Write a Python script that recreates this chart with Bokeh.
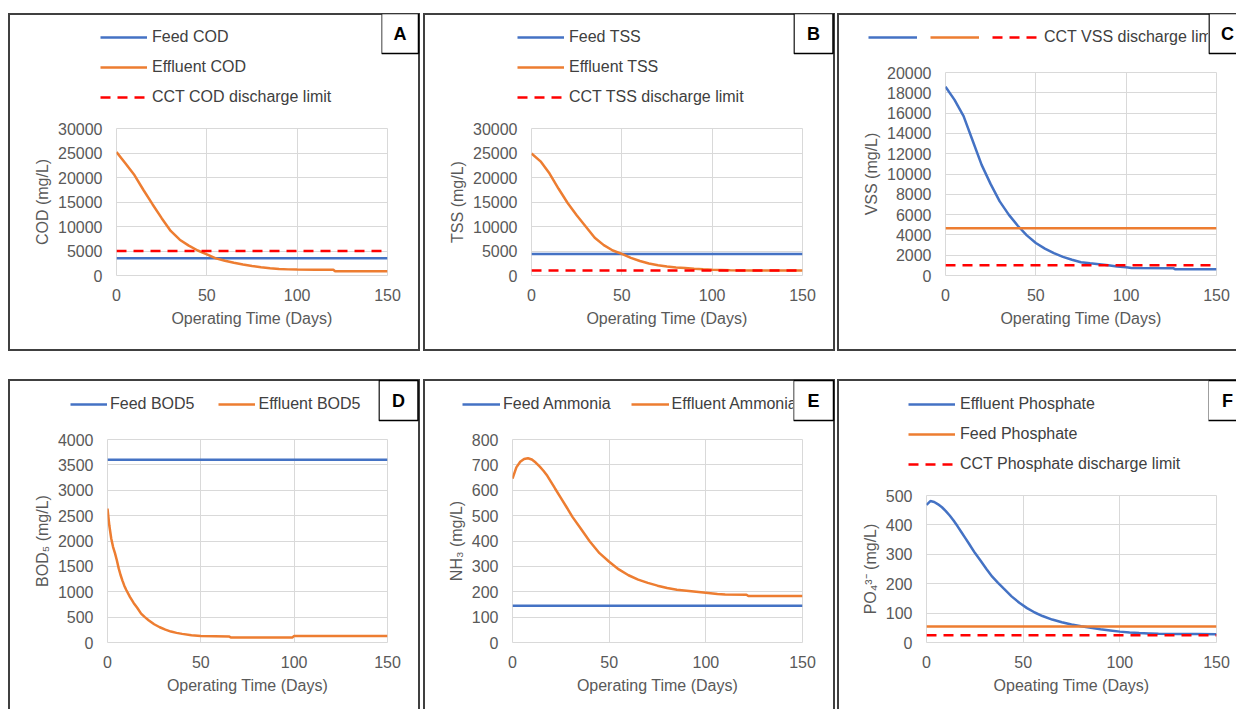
from bokeh.plotting import figure
from bokeh.models import Legend, LegendItem, Label, Range1d, FixedTicker, Spacer
from bokeh.layouts import row, column
from bokeh.embed import file_html
from bokeh.resources import INLINE

# ---------------- data ----------------
x_ticks = [0, 50, 100, 150]

cod_days = [0, 5, 10, 15, 20, 25, 30, 35, 40, 45, 50, 55, 60, 65, 70, 75, 80, 85, 90, 95, 100, 110, 120, 121, 130, 140, 150]
cod_effluent = [25200, 22850, 20450, 17400, 14500, 11700, 9100, 7300, 6100, 5100, 4300, 3500, 3000, 2600, 2250, 1950,
                1700, 1500, 1350, 1250, 1200, 1180, 1170, 870, 860, 850, 850]
cod_feed = [3500, 3500]
cod_limit = [5000, 5000]
cod_yticks = [0, 5000, 10000, 15000, 20000, 25000, 30000]

tss_days = [0, 5, 10, 15, 20, 25, 30, 35, 40, 45, 50, 55, 60, 65, 70, 75, 80, 85, 90, 95, 100, 110, 120, 130, 140, 150]
tss_effluent = [24900, 23300, 20800, 17700, 14800, 12300, 10000, 7700, 6200, 5100, 4400, 3600, 2950, 2450, 2100, 1850,
                1650, 1530, 1400, 1280, 1180, 1080, 1020, 1000, 1000, 1000]
tss_feed = [4400, 4400]
tss_limit = [1000, 1000]
tss_yticks = [0, 5000, 10000, 15000, 20000, 25000, 30000]

vss_days = [0, 5, 10, 15, 20, 25, 30, 35, 40, 45, 50, 55, 60, 65, 70, 75, 80, 85, 90, 95, 100, 103, 126, 127, 150]
vss_effluent = [18600, 17300, 15700, 13300, 10900, 9000, 7300, 6000, 4900, 3950, 3200, 2650, 2200, 1830, 1550, 1310,
                1200, 1120, 1000, 880, 820, 740, 720, 620, 620]
vss_feed = [4650, 4650]
vss_limit = [1000, 1000]
vss_yticks = [0, 2000, 4000, 6000, 8000, 10000, 12000, 14000, 16000, 18000, 20000]

bod_days = [0, 1, 2, 3, 4, 5, 6, 7, 8, 9, 10, 12, 14, 16, 18, 20, 22, 25, 28, 31, 34, 37, 40, 45, 50, 65, 66, 99, 100, 150]
bod_effluent = [2640, 2300, 2050, 1880, 1760, 1620, 1460, 1330, 1220, 1120, 1040, 900, 780, 680, 570, 500, 440, 360,
                300, 255, 215, 190, 170, 145, 130, 120, 100, 100, 130, 130]
bod_feed = [3600, 3600]
bod_yticks = [0, 500, 1000, 1500, 2000, 2500, 3000, 3500, 4000]

nh3_days = [0, 2, 4, 6, 8, 10, 12, 14, 16, 18, 20, 22, 25, 28, 31, 35, 40, 45, 50, 55, 60, 65, 70, 75, 80, 85, 90, 95,
            100, 106, 110, 121, 122, 150]
nh3_effluent = [646, 690, 712, 723, 726, 721, 709, 694, 677, 657, 632, 607, 570, 533, 495, 452, 398, 352, 318, 288, 265,
                248, 235, 224, 215, 208, 204, 200, 196, 191, 189, 188, 183, 183]
nh3_feed = [145, 145]
nh3_yticks = [0, 100, 200, 300, 400, 500, 600, 700, 800]

po4_days = [0, 2, 4, 6, 8, 10, 12, 14, 16, 18, 20, 22, 25, 28, 31, 34, 37, 40, 44, 48, 52, 56, 60, 65, 70, 75, 80, 85,
            90, 95, 100, 105, 110, 115, 120, 130, 140, 150]
po4_effluent = [468, 481, 478, 470, 460, 447, 432, 415, 396, 376, 356, 336, 305, 278, 250, 224, 203, 183, 157, 135, 117,
                102, 90, 78, 69, 61, 55, 50, 45, 41, 37, 34, 32, 31, 30, 29, 28.5, 28]
po4_feed = [54, 54]
po4_limit = [25, 25]
po4_yticks = [0, 100, 200, 300, 400, 500]

# ---------------- style ----------------
BLUE = "#4472C4"
ORANGE = "#ED7D31"
RED = "#FF0000"
FONT = "Liberation Sans"
GRID = "#D9D9D9"
TXT = "#595959"
FRAME = "#404040"
DASH = "10 7"

SHADOW = {"left": "inset 2px 0 0 0 " + FRAME, "right": "inset -2px 0 0 0 " + FRAME,
          "top": "inset 0 2px 0 0 " + FRAME, "bottom": "inset 0 -2px 0 0 " + FRAME}


def frame_css(sides):
    return {"box-shadow": ", ".join(SHADOW[s] for s in sides)} if sides else {}


def blank_fig(w, h, sides):
    s = figure(width=w, height=h, x_range=Range1d(0, w), y_range=Range1d(h, 0),
               x_axis_location=None, y_axis_location=None, output_backend="svg",
               toolbar_location=None, title=None, min_border=0, styles=frame_css(sides))
    s.background_fill_color = None
    s.border_fill_color = None
    s.outline_line_color = None
    for g in s.grid:
        g.visible = False
    return s


def make_strip(w_leg, w_let, h, right_side, series, leg, letter, lx, ly, pl, pr):
    """Strip above a panel's plot area: the legend (clipped at the letter box) and the panel letter."""
    s = blank_fig(w_leg, h, ["left", "top"])
    items = []
    for (color, dash, name) in series:
        # legend key only: its two points lie outside the strip's visible range
        r = s.line(x=[-20, -10], y=[0, 0], line_color=color, line_width=2.5, line_dash=dash)
        items.append(LegendItem(label=name, renderers=[r]))
    lg = Legend(items=items, location=leg["loc"], orientation=leg["orient"],
                glyph_width=leg["gw"], glyph_height=20, label_height=20, label_width=0,
                label_standoff=leg["standoff"], spacing=leg["spacing"],
                padding=0, margin=0, border_line_color=None, background_fill_alpha=0,
                label_text_font=FONT, label_text_font_size="16px", label_text_color=FRAME)
    s.add_layout(lg)

    t = blank_fig(w_let, h, ["top", "right"] if right_side else ["top"])
    lab = Label(x=lx, y=ly, text=letter, text_align="center", text_baseline="middle",
                text_font=FONT, text_font_size="18px", text_font_style="bold", text_color="black",
                background_fill_color="white", border_line_color="black", border_line_width=1.5,
                padding=dict(left=pl, right=pr, top=10, bottom=10))
    t.add_layout(lab)
    return row(s, t)


def make_main(w, h, sides, mb, yticks, ylabel, xlabel, lines):
    p = figure(width=w, height=h, x_range=Range1d(0, 150), y_range=Range1d(0, yticks[-1]),
               output_backend="svg", toolbar_location=None, title=None,
               min_border_left=mb[0], min_border_right=mb[1], min_border_top=mb[2], min_border_bottom=mb[3],
               styles=frame_css(sides))
    p.background_fill_color = "white"
    p.border_fill_color = None
    p.outline_line_color = GRID
    p.outline_line_width = 1
    p.xaxis.ticker = FixedTicker(ticks=x_ticks)
    p.yaxis.ticker = FixedTicker(ticks=yticks)
    p.xgrid.grid_line_color = GRID
    p.ygrid.grid_line_color = GRID
    for ax in (p.xaxis[0], p.yaxis[0]):
        ax.axis_line_color = None
        ax.major_tick_line_color = None
        ax.minor_tick_line_color = None
        ax.major_tick_out = 0
        ax.major_tick_in = 0
        ax.minor_tick_out = 0
        ax.minor_tick_in = 0
        ax.major_label_text_font = FONT
        ax.major_label_text_font_size = "16px"
        ax.major_label_text_color = TXT
        ax.axis_label_text_font = FONT
        ax.axis_label_text_font_size = "16px"
        ax.axis_label_text_font_style = "normal"
        ax.axis_label_text_color = TXT
    p.xaxis.axis_label = xlabel
    p.yaxis.axis_label = ylabel
    p.xaxis.major_label_standoff = 13
    p.yaxis.major_label_standoff = 14
    p.xaxis.axis_label_standoff = 6
    p.yaxis.axis_label_standoff = 4
    for (xs, ys, color, dash) in lines:
        p.line(xs, ys, line_color=color, line_width=2.5, line_dash=dash)
    return p


def flat(days, v):
    return [days[0], days[-1]], v


def panel(strip, main):
    return column(strip, main)


XL = "Operating Time (Days)"

# ---- Panel A ----
sA = make_strip(373, 39, 102, True,
                [(BLUE, "solid", "Feed COD"), (ORANGE, "solid", "Effluent COD"), (RED, DASH, "CCT COD discharge limit")],
                dict(loc=(92, 8), orient="vertical", gw=47, standoff=5, spacing=10), "A", 18.5, 20, 12, 12)
mA = make_main(412, 236, ["left", "right", "bottom"], (108, 33, 13, 76), cod_yticks, "COD (mg/L)", XL,
               [(*flat(cod_days, cod_feed), BLUE, "solid"),
                (cod_days, cod_effluent, ORANGE, "solid"),
                (*flat(cod_days, cod_limit), RED, DASH)])

# ---- Panel B ----
sB = make_strip(370, 42, 102, True,
                [(BLUE, "solid", "Feed TSS"), (ORANGE, "solid", "Effluent TSS"), (RED, DASH, "CCT TSS discharge limit")],
                dict(loc=(94, 8), orient="vertical", gw=47, standoff=5, spacing=10), "B", 20, 20, 13, 13)
mB = make_main(412, 236, ["left", "right", "bottom"], (108, 33, 13, 76), tss_yticks, "TSS (mg/L)", XL,
               [(*flat(tss_days, tss_feed), BLUE, "solid"),
                (tss_days, tss_effluent, ORANGE, "solid"),
                (*flat(tss_days, tss_limit), RED, DASH)])

# ---- Panel C ----
sC = make_strip(371, 28, 47, False,
                [(BLUE, "solid", " "), (ORANGE, "solid", " "), (RED, DASH, "CCT VSS discharge limit")],
                dict(loc=(31, 13), orient="horizontal", gw=49, standoff=3, spacing=10), "C", 19, 20, 12, 12)
mC = make_main(399, 291, ["left", "bottom"], (108, 20, 12, 76), vss_yticks, "VSS (mg/L)", XL,
               [(vss_days, vss_effluent, BLUE, "solid"),
                (*flat(vss_days, vss_feed), ORANGE, "solid"),
                (*flat(vss_days, vss_limit), RED, DASH)])

# ---- Panel D ----
sD = make_strip(370, 42, 48, True,
                [(BLUE, "solid", "Feed BOD5"), (ORANGE, "solid", "Effluent BOD5")],
                dict(loc=(62, 13), orient="horizontal", gw=37, standoff=3, spacing=24), "D", 20, 21, 13, 13)
mD = make_main(412, 282, ["left", "right"], (99, 33, 12, 67), bod_yticks, "BOD\u2085 (mg/L)", XL,
               [(*flat(bod_days, bod_feed), BLUE, "solid"),
                (bod_days, bod_effluent, ORANGE, "solid")])

# ---- Panel E ----
sE = make_strip(370, 42, 48, True,
                [(BLUE, "solid", "Feed Ammonia"), (ORANGE, "solid", "Effluent Ammonia")],
                dict(loc=(39, 13), orient="horizontal", gw=38, standoff=3, spacing=20), "E", 20, 21, 14, 14)
mE = make_main(412, 282, ["left", "right"], (89, 33, 12, 67), nh3_yticks, "NH\u2083 (mg/L)", XL,
               [(*flat(nh3_days, nh3_feed), BLUE, "solid"),
                (nh3_days, nh3_effluent, ORANGE, "solid")])

# ---- Panel F ----
sF = make_strip(371, 28, 104, False,
                [(BLUE, "solid", "Effluent Phosphate"), (ORANGE, "solid", "Feed Phosphate"),
                 (RED, DASH, "CCT Phosphate discharge limit")],
                dict(loc=(71, 9), orient="vertical", gw=47, standoff=5, spacing=10), "F", 19, 21, 14, 14)
mF = make_main(399, 226, ["left"], (89, 20, 12, 67), po4_yticks, "PO\u2084\u00b3\u207b (mg/L)",
               "Opeating Time (Days)",
               [(po4_days, po4_effluent, BLUE, "solid"),
                (*flat(po4_days, po4_feed), ORANGE, "solid"),
                (*flat(po4_days, po4_limit), RED, DASH)])

layout = column(
    Spacer(height=13),
    row(Spacer(width=8), panel(sA, mA), Spacer(width=3), panel(sB, mB), Spacer(width=2), panel(sC, mC)),
    Spacer(height=28),
    row(Spacer(width=8), panel(sD, mD), Spacer(width=3), panel(sE, mE), Spacer(width=2), panel(sF, mF)),
)

open("out.html", "w").write(file_html(layout, INLINE))
